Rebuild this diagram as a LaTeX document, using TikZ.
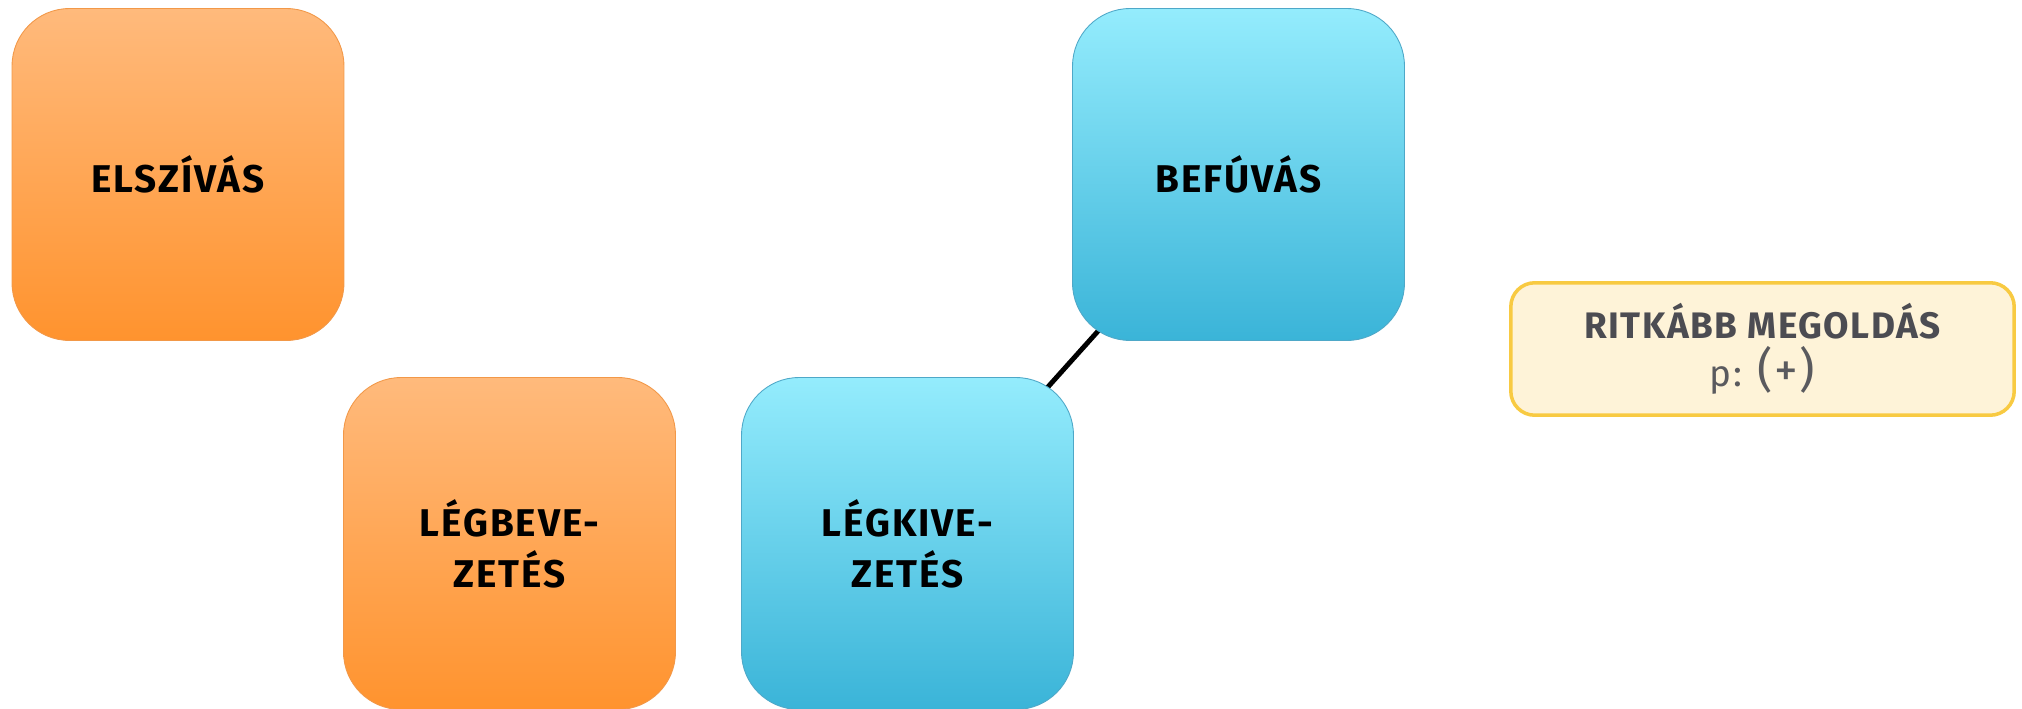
\documentclass[tikz,border=0pt]{standalone}
\usepackage{fontspec}
\setmainfont{Fira Sans}
\usepackage{tikz}
\usetikzlibrary{backgrounds}
\definecolor{orangetop}{RGB}{255, 186, 124}
\definecolor{orangebottom}{RGB}{255, 147, 46}
\definecolor{orangeline}{RGB}{242, 152, 72}
\definecolor{bluetop}{RGB}{148, 236, 253}
\definecolor{bluebottom}{RGB}{58, 180, 216}
\definecolor{blueline}{RGB}{78, 168, 200}
\definecolor{noteline}{RGB}{248, 202, 66}
\definecolor{notefill}{RGB}{254, 243, 216}
\definecolor{notetext}{RGB}{76, 76, 82}
\definecolor{notegray}{RGB}{90, 90, 94}

\begin{document}
\begin{tikzpicture}[x=0.02cm, y=-0.02cm,
    tile/.style={rounded corners=1.15cm, minimum width=6.64cm, minimum height=6.64cm, align=center, line width=0.5pt, font=\fontsize{22}{29}\selectfont\bfseries\addfontfeature{LetterSpace=5}},
    warmtile/.style={tile, draw=orangeline, top color=orangetop, bottom color=orangebottom},
    coldtile/.style={tile, draw=blueline, top color=bluetop, bottom color=bluebottom},
    notebox/.style={rounded corners=0.48cm, draw=noteline, fill=notefill, line width=2pt, minimum width=10.07cm, minimum height=2.65cm, align=center, text=notetext, font=\fontsize{21}{27}\selectfont\bfseries\addfontfeature{LetterSpace=4}}]
    \useasboundingbox (0,0) rectangle (2022,709);
    \node[warmtile] (elszivas) at (178,174.5) {ELSZÍVÁS};
    \node[coldtile] (befuvas) at (1238.5,174.5) {BEFÚVÁS};
    \node[warmtile] (legbevezetes) at (509.5,543.5) {LÉGBEVE-\\ZETÉS};
    \node[coldtile] (legkivezetes) at (907.5,543.5) {LÉGKIVE-\\ZETÉS};
    \node[notebox] (ritkabb) at (1762.5,349) {RITKÁBB MEGOLDÁS\\{\mdseries\color{notegray}p: {\fontsize{27}{27}\selectfont(+)}}};
    \begin{scope}[on background layer]
        \draw[line width=2.8pt] (legkivezetes.center) -- (befuvas.center);
    \end{scope}
\end{tikzpicture}
\end{document}
